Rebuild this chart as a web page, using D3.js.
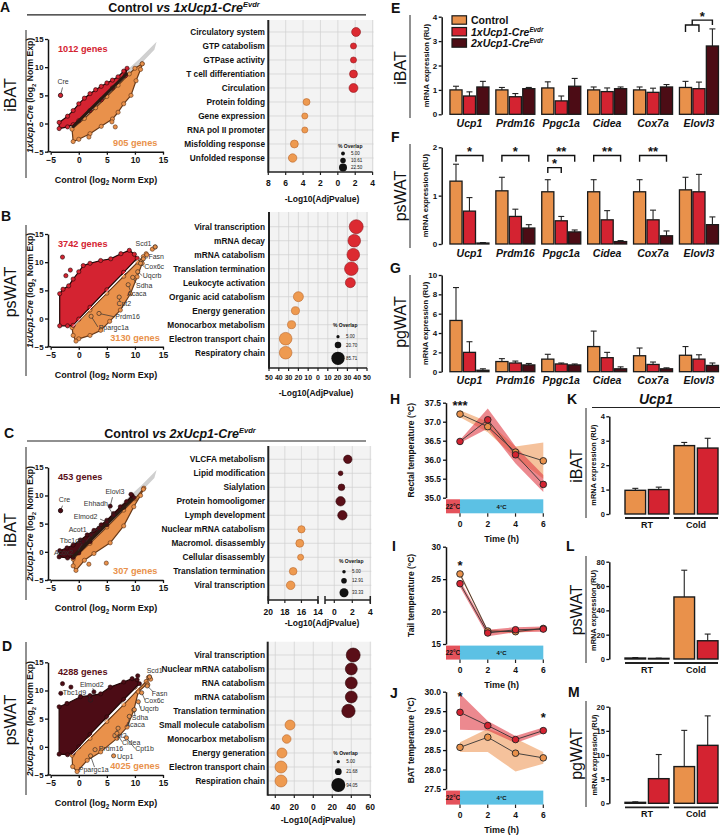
<!DOCTYPE html>
<meta charset="utf-8">
<script src="https://d3js.org/d3.v7.min.js"></script>
<style>
  body { margin: 0; background: #fff; }
  text { font-family: "Liberation Sans", Arial, Helvetica, sans-serif; }
</style>
<div id="fig"></div>
<script>

// colours for the three genotypes
var cCtrl = "#E9914B", cOne = "#D42331", cTwo = "#4C0C15";

// ---------- A-D scatter clouds: outlines (log2 norm exp)
var upA = [[-3.5,-0.9],[-3.5,0.2],[-2,1.3],[-1,2.3],[0,3.5],[1,4.5],[2,5.3],[3,6],[4,6.6],[5,7.2],[6,7.7],[7,8.3],[8,9.3],[8.6,9.8],[8.3,8.5],[6,6.3],[4,4.2],[2,2.3],[0,0.5],[-1,-0.2],[-2,-0.6]];
var downA = [[-1.2,-1],[1,0.9],[3,2.8],[5,4.8],[7,6.8],[9,8.8],[10,9.8],[11.3,10.6],[11,9.6],[10.2,7.6],[9.3,5],[8,3.5],[7,2],[6,0.8],[4,-0.5],[2,-1.8],[0,-2.8],[-1,-3.2]];
var grayA = [[7.5,8.2],[9,9.6],[11,11.4],[13.5,13.9],[13.3,13.2],[11,10.8],[9,9]];
var outUpA = [[-3.25,5.0]];
var outDownA = [[5.9,0.3],[6.5,-0.6],[1.8,-2.4],[11.3,10.6]];
var coreA = [[-1,-0.5],[8.5,8.8]];
var labelsA = [["Cre",-3.25,5.0,-3.8,7.1,-2.9,6.4]];

var upB = [[-3.4,-1.3],[-3.4,4.4],[-2.8,5.2],[-1.8,5.8],[-1,7],[0,8.3],[0.8,9.4],[2,9.8],[3.9,10.3],[5.7,10.6],[7.5,11.5],[9,12.1],[9.9,11.4],[10.4,10.7],[8,8.2],[5,5.1],[2,2],[0,-0.1],[-1,-1.2],[-2,-1.3]];
var downB = [[-1.2,-1.6],[2,1.5],[5,4.5],[8,7.5],[10.5,10],[11.5,11],[12,11.5],[11.3,9.8],[10.4,7.4],[9.2,4.4],[7.4,1.5],[5.5,-0.5],[3.9,-2.1],[2,-3],[0,-3.6],[-0.5,-4],[-1,-3]];
var outUpB = [[-2.9,10.9],[-2.3,7.6],[-1.5,8.6]];
var outDownB = [[13.6,12.7],[13.1,12.3],[12.1,11.3]];
var coreB = [[-1,-1.4],[10.5,10.4]];
var labelsB = [
  ["Scd1",13.6,12.7,10.1,12.8,null,null],
  ["Fasn",11.5,10.6,12.4,10.55,12.3,10.8],
  ["Cox6c",11.0,9.8,11.65,8.75,11.6,9.2],
  ["Uqcrb",10.5,8.3,11.4,7.15,11.3,7.6],
  ["Sdha",9.6,7.3,10.2,5.45,10.2,6.3],
  ["Acaca",8.8,6.0,8.6,4.0,9.2,4.9],
  ["Cpt2",7.2,3.8,6.7,2.15,7.3,3.1],
  ["Prdm16",3.6,0.9,6.5,-0.05,6.4,0.3],
  ["Ppargc1a",2.2,0.4,3.55,-2.1,3.4,-1.5]
];

var upC = [[-3.5,-0.9],[-3.4,0.2],[-2.1,0.7],[-1,1.2],[0.3,2.1],[1.5,3],[2.7,3.8],[4,4.8],[5,5.6],[6.2,6.8],[7.4,8],[8.5,8.9],[9.5,10],[9.8,9.6],[8,7.9],[5,4.8],[2,1.8],[0,-0.2],[-1,-1],[-2,-1.1]];
var downC = [[-1,-1.3],[2,1.5],[5,4.4],[8,7.4],[10,9.4],[11.6,11.3],[11,10],[9.8,8],[8,4.6],[5.6,1.6],[2.7,-0.3],[1,-1.5],[-0.5,-3.3],[-1,-2.5]];
var grayC = [[7.5,8.2],[9,9.6],[11,11.4],[13.5,13.9],[13.3,13.2],[11,10.8],[9,9]];
var outUpC = [[-3.25,7.3],[9.3,10.2]];
var outDownC = [[1.8,-2.2],[4.9,-2.0],[11.5,11.1]];
var coreC = [[-1,-0.8],[9.5,9.3]];
var labelsC = [
  ["Cre",-3.25,7.3,-3.55,8.8,-2.9,8.2],
  ["Elovl3",5.6,8.1,4.75,10.3,6.0,9.7],
  ["Ehhadh",6.2,6.5,0.9,8.05,5.3,7.9],
  ["Elmod2",5.0,5.3,-0.9,5.9,3.8,5.8],
  ["Acot1",3.6,4.2,-1.8,3.6,2.3,3.5],
  ["Tbc1d9",2.2,3.0,-3.4,1.55,1.3,1.8],
  ["Acox2",0.8,1.8,-4.4,-0.5,-0.1,0.2]
];

var upD = [[-3.5,-1.3],[-3.5,7.1],[-2.1,7.7],[0.3,8.9],[2,9.1],[3.9,9.4],[5.6,10.6],[8,11.5],[9.5,12.1],[10.4,11.9],[10.8,11.2],[8,8.4],[5,5.3],[2,2.2],[0,0],[-1,-1.1],[-2,-1.4]];
var downD = [[-1.2,-1.5],[2,1.5],[5,4.5],[8,7.5],[10.5,10.1],[12,11.6],[12.4,12.3],[12.2,11.2],[10.6,9.75],[9.8,6.5],[8.6,3.5],[6.8,1.5],[3.9,-0.9],[1.5,-2.4],[-0.3,-4.4],[-1.1,-3.5]];
var outUpD = [[-2.9,11.2],[-1.4,10.6],[-3.2,9.5],[10.5,12.6]];
var outDownD = [[12.6,12.4],[12.8,12.0],[12.3,11.0]];
var coreD = [[-1.1,-1.4],[10.8,10.7]];
var labelsD = [
  ["Scd1",12.6,12.4,12.1,13.1,null,null],
  ["Elmod2",2.7,9.75,0.2,10.7,2.5,10.4],
  ["Tbc1d9",2.1,8.3,-2.85,9.2,1.8,9.0],
  ["Fasn",12.2,10.8,13.0,9.1,13.2,9.8],
  ["Cox6c",11.2,9.6,11.65,7.76,11.8,8.3],
  ["Uqcrb",10.6,8.0,10.9,6.28,11.0,6.8],
  ["Sdha",9.9,6.6,9.45,4.79,10.0,5.4],
  ["Acaca",9.0,5.4,8.3,3.49,8.9,4.0],
  ["Cpt2",7.0,3.3,5.9,1.54,6.5,2.2],
  ["Cidea",6.8,2.4,7.7,0.25,7.7,0.9],
  ["Cpt1b",8.5,1.6,10.05,-0.82,10.0,-0.3],
  ["Prdm16",2.9,-0.5,3.55,-0.82,null,null],
  ["Ucp1",6.2,-1.6,6.8,-2.19,null,null],
  ["Ppargc1a",2.1,-1.6,0.0,-4.4,2.8,-3.6]
];

var countsA = ["1012 genes", "905 genes"];
var countsB = ["3742 genes", "3130 genes"];
var countsC = ["453 genes", "307 genes"];
var countsD = ["4288 genes", "4025 genes"];

// ---------- GO term dot plots (signed -log10 adj p: + up, - down; % overlap)
var termsA = ["Circulatory system","GTP catabolism","GTPase activity","T cell differentiation","Circulation","Protein folding","Gene expression","RNA pol II promoter","Misfolding response","Unfolded response"];
var scoreA = [2.1,1.8,1.8,1.8,1.8,-3.6,-3.8,-3.8,-5.0,-5.2];
var overlapA = [28,13,13,22,28,17,13,13,22,25];
var legendA = [5.00,10.61,22.50];

var termsB = ["Viral transcription","mRNA decay","mRNA catabolism","Translation termination","Leukocyte activation","Organic acid catabolism","Energy generation","Monocarbox metabolism","Electron transport chain","Respiratory chain"];
var scoreB = [39,37,36,34,33,-20,-23,-27,-33,-33];
var overlapB = [94,77,77,89,48,48,31,31,77,77];
var legendB = [5.00,20.70,85.71];

var termsC = ["VLCFA metabolism","Lipid modification","Sialylation","Protein homooligomer","Lymph development","Nuclear mRNA catabolism","Macromol. disassembly","Cellular disassembly","Translation termination","Viral transcription"];
var scoreC = [1.5,0.7,0.8,0.7,0.9,-16,-16.2,-16.1,-17,-17.3];
var overlapC = [29,9,18,36,36,22,26,15,24,30];
var legendC = [5.00,12.91,33.33];

var termsD = ["Viral transcription","Nuclear mRNA catabolism","RNA catabolism","mRNA catabolism","Translation termination","Small molecule catabolism","Monocarbox metabolism","Energy generation","Electron transport chain","Respiration chain"];
var scoreD = [42,40,40,40,37,-24.5,-28,-33,-34,-34];
var overlapD = [94,69,69,69,86,48,36,48,69,69];
var legendD = [5.00,21.68,94.05];

// ---------- E-G qPCR: per gene [Control, 1x, 2x]
var genes = ["Ucp1","Prdm16","Ppgc1a","Cidea","Cox7a","Elovl3"];
var ibatMean = [[1.0,0.75,1.12],[1.0,0.72,1.05],[1.08,0.55,1.15],[1.0,0.93,1.05],[1.0,0.9,1.12],[1.1,1.05,2.8]];
var ibatSem  = [[0.15,0.17,0.23],[0.1,0.13,0.05],[0.25,0.2,0.32],[0.12,0.15,0.07],[0.12,0.17,0.1],[0.25,0.27,0.7]];
var pswatMean = [[1.3,0.68,0.02],[1.1,0.57,0.33],[1.08,0.48,0.25],[1.08,0.5,0.05],[1.08,0.5,0.17],[1.12,1.08,0.4]];
var pswatSem  = [[0.35,0.28,0.01],[0.28,0.15,0.07],[0.25,0.09,0.04],[0.25,0.19,0.02],[0.25,0.2,0.1],[0.26,0.36,0.16]];
var pgwatMean = [[5.3,2.0,0.15],[1.05,0.9,0.7],[1.3,0.8,0.7],[2.6,1.45,0.3],[1.65,0.75,0.3],[1.7,1.3,0.65]];
var pgwatSem  = [[3.4,1.1,0.15],[0.3,0.2,0.15],[0.5,0.1,0.1],[1.6,0.55,0.2],[0.8,0.25,0.1],[0.9,0.45,0.25]];
// brackets: [gene, from group, to group, height, leg end, label]
var sigE = [[5,0,1,3.66,3.37,""],[5,0.5,2,3.86,3.66,"*"]];
var sigF = [[0,0,2,1.83,1.7,"*"],[1,0,2,1.83,1.7,"*"],[2,0,2,1.83,1.7,"**"],[2,0,1,1.58,1.47,"*"],[3,0,2,1.83,1.7,"**"],[4,0,2,1.83,1.7,"**"]];

// ---------- H-J temperatures (mean and band limits) for Control and 1x
var hours = [0,2,4,6];
var rectalCtrl = [37.2,36.87,36.2,35.97], rectalCtrlLo = [37.12,36.72,36.05,35.5], rectalCtrlHi = [37.3,37.0,36.35,36.45];
var rectalCre = [36.48,37.05,36.13,35.35], rectalCreLo = [36.44,36.82,35.9,35.15], rectalCreHi = [36.52,37.35,36.35,35.6];
var tailCtrl = [25.8,17.0,16.9,17.4], tailCtrlLo = [25.5,16.8,16.7,17.2], tailCtrlHi = [26.1,17.2,17.1,17.6];
var tailCre = [24.3,16.7,17.2,17.3], tailCreLo = [23.8,16.2,16.8,16.9], tailCreHi = [24.8,17.2,17.6,17.7];
var batCtrl = [28.57,28.83,28.42,28.3], batCtrlLo = [28.45,28.45,27.95,28.15], batCtrlHi = [28.7,29.05,28.8,28.45];
var batCre = [29.47,29.13,28.77,29.0], batCreLo = [29.02,29.0,28.68,28.93], batCreHi = [29.95,29.25,28.86,29.08];

// ---------- K-M Ucp1 at RT / cold: per condition [Control, 1x]
var conds = ["RT","Cold"];
var kMean = [[0.97,1.0],[2.8,2.7]], kSem = [[0.08,0.1],[0.13,0.4]];
var lMean = [[0.8,0.5],[51,15]], lSem = [[0.4,0.2],[22,5.5]];
var mMean = [[0.2,5.1],[7.6,12.0]], mSem = [[0.1,5.0],[7.5,6.1]];

// ================================================================
var svg = d3.select("#fig").append("svg").attr("width", 720).attr("height", 836);
var fInt = d3.format("d");

// text with italic / sub / sup parts
function rich(t, parts, fs) {
  var shift = 0;
  parts.forEach(function(q) {
    var s = t.append("tspan").text(q.t);
    if (q.i) s.style("font-style", "italic");
    var want = q.sub ? 0.3 * fs : (q.sup ? -0.36 * fs : 0);
    if (want !== shift) { s.attr("dy", want - shift); shift = want; }
    if (q.sub || q.sup) s.style("font-size", (fs * (q.sub ? 0.7 : 0.6)) + "px");
  });
}

function addText(x, y, s, o) {
  o = o || {};
  var size = o.size || 9;
  var t = svg.append("text").attr("x", x).attr("y", y)
    .style("font-size", size + "px")
    .style("font-weight", o.bold === false ? "normal" : "bold")
    .attr("text-anchor", o.anchor || "start")
    .attr("fill", o.fill || "#111");
  if (o.italic) t.style("font-style", "italic");
  if (o.rotate) t.attr("transform", "rotate(-90," + x + "," + y + ")");
  if (typeof s === "string") t.text(s); else rich(t, s, size);
  return t;
}

function vline(x, y1, y2, w) {
  svg.append("line").attr("x1", x).attr("x2", x).attr("y1", y1).attr("y2", y2)
    .attr("stroke", "#222").attr("stroke-width", w || 1);
}
function hline(x1, x2, y, w) {
  svg.append("line").attr("x1", x1).attr("x2", x2).attr("y1", y).attr("y2", y)
    .attr("stroke", "#222").attr("stroke-width", w || 1);
}

function styleAxis(a, fs) {
  a.select(".domain").attr("stroke", "#111").attr("stroke-width", 1.5);
  a.selectAll(".tick line").attr("stroke", "#111").attr("stroke-width", 1.3);
  a.selectAll(".tick text").style("font-size", fs + "px").style("font-weight", "bold")
    .style("font-family", '"Liberation Sans", Arial, sans-serif').attr("fill", "#111");
}

// ---------- panel letters / titles / tissue labels
[["A",0,12],["B",1,221],["C",4,438],["D",2,651],["E",391,12.5],["F",391,142],["G",390,273],
 ["H",390,404],["I",392,551],["J",390,698],["K",567,404],["L",566,551],["M",568,697]]
  .forEach(function(d) { addText(d[1], d[2], d[0], {size: 14}); });

function creTitle(x, y, n) {
  addText(x, y, [{t: "Control "}, {t: "vs " + n + "xUcp1-Cre", i: true}, {t: "Evdr", i: true, sup: true}],
    {size: 12.5, anchor: "middle"});
}
creTitle(184, 11.5, 1); hline(27, 366, 14.8, 1.2);
creTitle(180, 437.5, 2); hline(27, 366, 441, 1.2);

function tissue(name, x, yc, lineX, y1, y2) {
  addText(x, yc, name, {size: 16, bold: false, rotate: true, anchor: "middle"});
  vline(lineX, y1, y2, 1);
}
tissue("iBAT", 16, 95, 26, 30, 178);
tissue("psWAT", 16, 292, 26, 225, 376);
tissue("iBAT", 16, 530, 26, 447, 600);
tissue("psWAT", 16, 720, 26, 642, 795);
tissue("iBAT", 406, 68, 410, 15, 118);
tissue("psWAT", 406, 196, 410, 144, 248);
tissue("pgWAT", 406, 322, 410, 275, 378);
tissue("iBAT", 582, 466, 586, 408, 518);
tissue("psWAT", 582, 610, 586, 556, 663);
tissue("pgWAT", 582, 754, 586, 701, 807);

// ---------- scatter panels
function scatter(p) {
  var g = svg.append("g");
  var x = d3.scaleLinear().domain([-5, 15]).range([50.7, 163]);
  var y = d3.scaleLinear().domain([-5, 15]).range([p.base, p.base - 112.7]);
  var poly = d3.line().x(function(d) { return x(d[0]); }).y(function(d) { return y(d[1]); })
    .curve(d3.curveLinearClosed);
  function dots(data, fill, stroke) {
    g.append("g").selectAll("circle").data(data).join("circle")
      .attr("cx", function(d) { return x(d[0]); }).attr("cy", function(d) { return y(d[1]); })
      .attr("r", 2.1).attr("fill", fill).attr("stroke", stroke).attr("stroke-width", 0.6);
  }
  if (p.gray) {
    g.append("path").attr("d", poly(p.gray)).attr("fill", "#d9d9d9").attr("stroke", "#cfcfcf").attr("stroke-width", 2);
  }
  g.append("path").attr("d", poly(p.down)).attr("fill", cCtrl)
    .attr("stroke", "#6a3a18").attr("stroke-width", 1.2).attr("stroke-linejoin", "round");
  dots(p.down, cCtrl, "#5a3015");
  g.append("path").attr("d", poly(p.up)).attr("fill", p.upColor)
    .attr("stroke", "#220606").attr("stroke-width", 1.2).attr("stroke-linejoin", "round");
  dots(p.up, p.upColor, "#220606");
  g.append("line").attr("x1", x(p.core[0][0])).attr("y1", y(p.core[0][1]))
    .attr("x2", x(p.core[1][0])).attr("y2", y(p.core[1][1]))
    .attr("stroke", p.coreColor).attr("stroke-width", p.coreWidth).attr("stroke-linecap", "round");
  dots(p.outUp, p.upColor, "#220606");
  dots(p.outDown, cCtrl, "#5a3015");
  // gene labels
  p.labels.forEach(function(l) {
    if (l[5] !== null) {
      g.append("line").attr("x1", x(l[1])).attr("y1", y(l[2])).attr("x2", x(l[5])).attr("y2", y(l[6]))
        .attr("stroke", "#333").attr("stroke-width", 0.7);
    }
    var isUp = l[2] > l[1];
    g.append("circle").attr("cx", x(l[1])).attr("cy", y(l[2])).attr("r", 2.1)
      .attr("fill", isUp ? p.upColor : cCtrl).attr("stroke", "#222").attr("stroke-width", 0.6);
    g.append("text").attr("x", x(l[3])).attr("y", y(l[4])).text(l[0])
      .style("font-size", "7px").attr("fill", "#333");
  });
  // gene counts
  g.append("text").attr("x", x(-3.7)).attr("y", y(12.7)).text(p.counts[0])
    .style("font-size", "9.2px").style("font-weight", "bold").attr("fill", p.upColor === cTwo ? "#5a0f18" : cOne);
  g.append("text").attr("x", x(p.downX)).attr("y", y(-3.9)).text(p.counts[1])
    .style("font-size", "9.2px").style("font-weight", "bold").attr("fill", cCtrl);
  // axes
  var ay = g.append("g").attr("transform", "translate(48,0)")
    .call(d3.axisLeft(y).tickValues([-5, 0, 5, 10, 15]).tickFormat(fInt).tickSize(3).tickSizeOuter(0).tickPadding(1.5));
  styleAxis(ay, 7.8);
  var ax = g.append("g").attr("transform", "translate(0," + p.base + ")")
    .call(d3.axisBottom(x).tickValues([-5, 0, 5, 10, 15]).tickFormat(fInt).tickSize(3).tickSizeOuter(0).tickPadding(2));
  styleAxis(ax, 8.5);
  hline(47.3, 51, p.base, 1.5);
  addText(106, p.base + 31, [{t: "Control (log"}, {t: "2", sub: true}, {t: " Norm Exp)"}], {size: 9, anchor: "middle"});
  addText(33.5, y(5), [{t: p.cre + "xUcp1-Cre", i: true}, {t: " (log"}, {t: "2", sub: true}, {t: " Norm Exp)"}],
    {size: 8.6, anchor: "middle", rotate: true});
}

scatter({base: 151.7, up: upA, down: downA, gray: grayA, outUp: outUpA, outDown: outDownA, core: coreA,
  coreColor: "#2a1a12", coreWidth: 3, labels: labelsA, counts: countsA, upColor: cOne, downX: 6.1, cre: 1});
scatter({base: 346.7, up: upB, down: downB, gray: null, outUp: outUpB, outDown: outDownB, core: coreB,
  coreColor: "#ffffff", coreWidth: 1, labels: labelsB, counts: countsB, upColor: cOne, downX: 5.6, cre: 1});
scatter({base: 580, up: upC, down: downC, gray: grayC, outUp: outUpC, outDown: outDownC, core: coreC,
  coreColor: "#2a1a12", coreWidth: 3, labels: labelsC, counts: countsC, upColor: cTwo, downX: 6.1, cre: 2});
scatter({base: 775, up: upD, down: downD, gray: null, outUp: outUpD, outDown: outDownD, core: coreD,
  coreColor: "#ffffff", coreWidth: 1, labels: labelsD, counts: countsD, upColor: cTwo, downX: 5.6, cre: 2});

// ---------- dot plots
function dotPlot(p) {
  var g = svg.append("g");
  var y = d3.scalePoint().domain(p.terms).range([p.rowTop, p.rowTop + 14 * (p.terms.length - 1)]);
  var r = d3.scaleSqrt().domain([0, 100]).range([0, p.k * 10]);
  var right = p.xp(p.ticks[p.ticks.length - 1]) + 1;
  g.append("rect").attr("x", p.left).attr("y", p.top).attr("width", right - p.left).attr("height", p.bottom - p.top)
    .attr("fill", "#f3f3f3");
  p.ticks.forEach(function(t) {
    g.append("line").attr("x1", p.xp(t)).attr("x2", p.xp(t)).attr("y1", p.top).attr("y2", p.bottom)
      .attr("stroke", "#d0d0d0").attr("stroke-width", 0.7);
  });
  p.terms.forEach(function(t) {
    g.append("line").attr("x1", p.left).attr("x2", right).attr("y1", y(t)).attr("y2", y(t))
      .attr("stroke", "#d0d0d0").attr("stroke-width", 0.7);
  });
  vline(p.left, p.top, p.bottom + 0.7, 2);
  p.segments.forEach(function(s) {
    hline(s[0], s[1], p.bottom, 1.5);
    if (p.segments.length > 1) { vline(s[0], p.bottom - 4, p.bottom + 4, 1.5); vline(s[1], p.bottom - 4, p.bottom + 4, 1.5); }
  });
  p.ticks.forEach(function(t) {
    vline(p.xp(t), p.bottom, p.bottom + 3, 1.2);
    addText(p.xp(t), p.bottom + p.tickDy, String(Math.abs(t)), {size: p.tickFs || 8.5, anchor: "middle"});
  });
  g.selectAll("circle.dot").data(p.terms).join("circle").attr("class", "dot")
    .attr("cx", function(d, i) { return p.xp(p.score[i]); })
    .attr("cy", function(d) { return y(d); })
    .attr("r", function(d, i) { return r(p.overlap[i]); })
    .attr("fill", function(d, i) { return p.score[i] > 0 ? p.upFill : "#EE9A50"; })
    .attr("stroke", function(d, i) { return p.score[i] > 0 ? p.upStroke : "#B8672C"; })
    .attr("stroke-width", 0.6);
  p.terms.forEach(function(t) { addText(265, y(t) + 3, t, {size: 8.3, anchor: "end"}); });
  // size legend
  addText(p.leg[0], p.leg[1], "% Overlap", {size: 5});
  p.legend.forEach(function(v, i) {
    svg.append("circle").attr("cx", p.leg[0] + 5).attr("cy", p.legY[i]).attr("r", r(v)).attr("fill", "#111");
    addText(p.leg[0] + 13, p.legY[i] + 1.6, v.toFixed(2), {size: 4.5, bold: false});
  });
  addText(p.titleX, p.bottom + p.titleDy, "-Log10(AdjPvalue)", {size: 8.5, anchor: "middle"});
}

var xsA = d3.scaleLinear().domain([-8, 4]).range([268.3, 372.6]);
dotPlot({terms: termsA, score: scoreA, overlap: overlapA, legend: legendA, k: 0.843,
  xp: xsA, ticks: [-8, -6, -4, -2, 0, 2, 4], segments: [[268.3, 372.6]],
  left: 268.3, top: 20, bottom: 172, rowTop: 32, tickDy: 13.5, titleDy: 30, titleX: 322,
  upFill: "#DC2A31", upStroke: "#8f1a1f", leg: [338, 147.5], legY: [153.5, 160.5, 167.5]});

var xsB = d3.scaleLinear().domain([-50, 50]).range([269, 367]);
dotPlot({terms: termsB, score: scoreB, overlap: overlapB, legend: legendB, k: 0.72,
  xp: xsB, ticks: [-50, -40, -30, -20, -10, 0, 10, 20, 30, 40, 50], segments: [[269, 367]], tickFs: 7,
  left: 269, top: 212, bottom: 368, rowTop: 226.7, tickDy: 11.5, titleDy: 28, titleX: 316,
  upFill: "#DC2A31", upStroke: "#8f1a1f", leg: [333, 327], legY: [336.7, 345, 358.3]});

var xsCl = d3.scaleLinear().domain([-20, -14]).range([268.3, 318]);
var xsCr = d3.scaleLinear().domain([0, 4]).range([334.3, 370.3]);
dotPlot({terms: termsC, score: scoreC, overlap: overlapC, legend: legendC, k: 0.78,
  xp: function(v) { return v <= -14 ? xsCl(v) : xsCr(v); },
  ticks: [-20, -18, -16, -14, 0, 2, 4], segments: [[268.3, 318], [325, 370.3]],
  left: 268.3, top: 446, bottom: 600, rowTop: 459.3, tickDy: 14.5, titleDy: 25.5, titleX: 322,
  upFill: "#5A0F18", upStroke: "#2e0509", leg: [339, 562.5], legY: [571.7, 580.7, 592.7]});

var xsD = d3.scaleLinear().domain([-48, 60]).range([267.7, 370.3]);
dotPlot({terms: termsD, score: scoreD, overlap: overlapD, legend: legendD, k: 0.72,
  xp: xsD, ticks: [-40, -20, 0, 20, 40, 60], segments: [[267.7, 370.3]],
  left: 267.7, top: 641.7, bottom: 795, rowTop: 655, tickDy: 14.5, titleDy: 28, titleX: 318,
  upFill: "#5A0F18", upStroke: "#2e0509", leg: [333.3, 754.5], legY: [761.7, 771.7, 785]});

// ---------- E-G bar panels
var x0 = d3.scaleBand().domain(genes).range([446.5, 721.9]).paddingInner(0.15).paddingOuter(0.075);
var x1 = d3.scaleBand().domain([0, 1, 2]).range([0, x0.bandwidth()]).paddingInner(0.1);
var groupColors = [cCtrl, cOne, cTwo];

function errBar(g, cx, y0, y1) {
  g.append("line").attr("x1", cx).attr("x2", cx).attr("y1", y0).attr("y2", y1).attr("stroke", "#222").attr("stroke-width", 1.1);
  g.append("line").attr("x1", cx - 3).attr("x2", cx + 3).attr("y1", y1).attr("y2", y1).attr("stroke", "#222").attr("stroke-width", 1.1);
}

function genePanel(p) {
  var g = svg.append("g");
  var y = d3.scaleLinear().domain([0, p.max]).range([p.base, p.top]);
  genes.forEach(function(gn, i) {
    [0, 1, 2].forEach(function(j) {
      var bx = x0(gn) + x1(j), m = p.mean[i][j];
      errBar(g, bx + x1.bandwidth() / 2, y(m), y(m + p.sem[i][j]));
      g.append("rect").attr("x", bx).attr("y", y(m)).attr("width", x1.bandwidth()).attr("height", p.base - y(m))
        .attr("fill", groupColors[j]).attr("stroke", "#1a1a1a").attr("stroke-width", 1.3);
    });
    addText(x0(gn) + x0.bandwidth() / 2, p.base + 12.5, gn, {size: 10.5, italic: true, anchor: "middle"});
  });
  var ay = g.append("g").attr("transform", "translate(441.7,0)")
    .call(d3.axisLeft(y).tickValues(p.ticks).tickFormat(fInt).tickSize(3).tickSizeOuter(0).tickPadding(1.5));
  styleAxis(ay, 8);
  addText(428.5, (p.base + p.top) / 2, "mRNA expression (RU)", {size: 7.6, anchor: "middle", rotate: true});
  (p.sig || []).forEach(function(s) {
    var gx = function(k) { return x0(genes[s[0]]) + x1.step() * k + x1.bandwidth() / 2; };
    var xa = gx(s[1]), xb = gx(s[2]);
    g.append("path").attr("d", "M" + xa + "," + y(s[4]) + "V" + y(s[3]) + "H" + xb + "V" + y(s[4]))
      .attr("fill", "none").attr("stroke", "#111").attr("stroke-width", 1.4);
    if (s[5]) addText((xa + xb) / 2, y(s[3]) + 0.5, s[5], {size: 13, anchor: "middle"});
  });
}
genePanel({mean: ibatMean, sem: ibatSem, max: 4, base: 114.3, top: 16.7, ticks: [0, 1, 2, 3, 4], sig: sigE});
genePanel({mean: pswatMean, sem: pswatSem, max: 2, base: 244, top: 147.3, ticks: [0, 1, 2], sig: sigF});
genePanel({mean: pgwatMean, sem: pgwatSem, max: 10, base: 371.7, top: 275, ticks: [0, 2, 4, 6, 8, 10]});

// legend E
[["Control", false], ["1xUcp1-Cre", true], ["2xUcp1-Cre", true]].forEach(function(d, i) {
  var yy = [20, 31.7, 43][i];
  svg.append("rect").attr("x", 452).attr("y", yy - 4.2).attr("width", 14.5).attr("height", 8.4)
    .attr("fill", groupColors[i]).attr("stroke", "#1a1a1a").attr("stroke-width", 1.2);
  addText(471, yy + 3.8, d[1] ? [{t: d[0], i: true}, {t: "Evdr", i: true, sup: true}] : d[0], {size: 10.5});
});

// ---------- H-J temperature panels
var xt = d3.scaleLinear().domain([0, 6]).range([460, 543.3]);
function tempPanel(p) {
  var g = svg.append("g");
  var y = d3.scaleLinear().domain(p.dom).range([p.base, p.top]);
  var area = function(lo, hi) {
    return d3.area().x(function(d, i) { return xt(hours[i]); })
      .y0(function(d, i) { return y(lo[i]); }).y1(function(d, i) { return y(hi[i]); })(hours);
  };
  var ln = d3.line().x(function(d, i) { return xt(hours[i]); }).y(function(d) { return y(d); });
  g.append("path").attr("d", area(p.ctrlLo, p.ctrlHi)).attr("fill", "#EE9A5A").attr("opacity", 0.6);
  g.append("path").attr("d", area(p.creLo, p.creHi)).attr("fill", "#E03A45").attr("opacity", 0.6);
  g.append("path").attr("d", ln(p.ctrl)).attr("fill", "none").attr("stroke", "#333").attr("stroke-width", 0.9);
  g.append("path").attr("d", ln(p.cre)).attr("fill", "none").attr("stroke", "#333").attr("stroke-width", 0.9);
  [[p.ctrl, cCtrl], [p.cre, cOne]].forEach(function(s) {
    g.selectAll(null).data(s[0]).join("circle")
      .attr("cx", function(d, i) { return xt(hours[i]); }).attr("cy", function(d) { return y(d); })
      .attr("r", 3.3).attr("fill", s[1]).attr("stroke", "#222").attr("stroke-width", 0.9);
  });
  var ay = g.append("g").attr("transform", "translate(446,0)")
    .call(d3.axisLeft(y).tickValues(p.ticks).tickFormat(p.fmt).tickSize(3).tickSizeOuter(0).tickPadding(2));
  styleAxis(ay, 8.5);
  // housing temperature strip
  g.append("rect").attr("x", 446).attr("y", p.base + 1.6).attr("width", xt(0) - 446).attr("height", 14)
    .attr("fill", "#E4525B");
  g.append("rect").attr("x", xt(0)).attr("y", p.base + 1.6).attr("width", xt(6) - xt(0)).attr("height", 14)
    .attr("fill", "#5CC1E4");
  addText((446 + xt(0)) / 2, p.base + 11, "22°C", {size: 6.5, anchor: "middle"});
  addText((xt(0) + xt(6)) / 2, p.base + 11, "4°C", {size: 6, anchor: "middle"});
  hours.forEach(function(h) {
    vline(xt(h), p.base + 15.6, p.base + 19, 1.2);
    addText(xt(h), p.base + 29, String(h), {size: 8.5, anchor: "middle"});
  });
  addText(xt(3), p.base + 44, "Time (h)", {size: 9, anchor: "middle"});
  addText(414, (p.base + p.top) / 2, p.label, {size: 8.5, anchor: "middle", rotate: true});
  p.stars.forEach(function(s) { addText(xt(s[0]), y(s[1]) + 6.6, s[2], {size: 13, anchor: "middle"}); });
}
var f1 = d3.format(".1f");
tempPanel({dom: [35, 37.5], base: 497.7, top: 402.7, ticks: [35, 35.5, 36, 36.5, 37, 37.5], fmt: f1,
  ctrl: rectalCtrl, ctrlLo: rectalCtrlLo, ctrlHi: rectalCtrlHi, cre: rectalCre, creLo: rectalCreLo, creHi: rectalCreHi,
  label: "Rectal temperature (°C)", stars: [[0, 37.48, "***"]]});
tempPanel({dom: [15, 30], base: 644, top: 546.7, ticks: [15, 20, 25, 30], fmt: fInt,
  ctrl: tailCtrl, ctrlLo: tailCtrlLo, ctrlHi: tailCtrlHi, cre: tailCre, creLo: tailCreLo, creHi: tailCreHi,
  label: "Tail temperature (°C)", stars: [[0, 27.5, "*"]]});
tempPanel({dom: [27.5, 30], base: 789, top: 691.7, ticks: [27.5, 28, 28.5, 29, 29.5, 30], fmt: f1,
  ctrl: batCtrl, ctrlLo: batCtrlLo, ctrlHi: batCtrlHi, cre: batCre, creLo: batCreLo, creHi: batCreHi,
  label: "BAT temperature (°C)", stars: [[0, 29.93, "*"], [6, 29.38, "*"]]});

// ---------- K-M Ucp1 RT vs cold
addText(656, 404, "Ucp1", {size: 14, italic: true, anchor: "middle"});
hline(592, 720, 407.5, 1.2);
var xc0 = d3.scaleBand().domain(conds).range([625, 718]).paddingInner(0.1).paddingOuter(0);
var xc1 = d3.scaleBand().domain([0, 1]).range([0, xc0.bandwidth()]).paddingInner(0.12);
function coldPanel(p) {
  var g = svg.append("g");
  var y = d3.scaleLinear().domain([0, p.max]).range([p.base, p.top]);
  conds.forEach(function(c, i) {
    [0, 1].forEach(function(j) {
      var bx = xc0(c) + xc1(j), m = p.mean[i][j];
      errBar(g, bx + xc1.bandwidth() / 2, y(m), y(m + p.sem[i][j]));
      g.append("rect").attr("x", bx).attr("y", y(m)).attr("width", xc1.bandwidth()).attr("height", p.base - y(m))
        .attr("fill", groupColors[j]).attr("stroke", "#1a1a1a").attr("stroke-width", 1.4);
    });
    hline(xc0(c), xc0(c) + xc0.bandwidth(), p.base + 4, 1.8);
    addText(xc0(c) + xc0.bandwidth() / 2, p.base + 13.5, c, {size: 9, anchor: "middle"});
  });
  var ay = g.append("g").attr("transform", "translate(609.3,0)")
    .call(d3.axisLeft(y).tickValues(p.ticks).tickFormat(fInt).tickSize(3).tickSizeOuter(0).tickPadding(1.5));
  styleAxis(ay, 7.5);
  addText(596.5, (p.base + p.top) / 2, "mRNA expression (RU)", {size: 7.4, anchor: "middle", rotate: true});
}
coldPanel({mean: kMean, sem: kSem, max: 4, base: 514, top: 416.3, ticks: [0, 1, 2, 3, 4]});
coldPanel({mean: lMean, sem: lSem, max: 80, base: 659, top: 561.7, ticks: [0, 20, 40, 60, 80]});
coldPanel({mean: mMean, sem: mSem, max: 20, base: 803.3, top: 706.7, ticks: [0, 5, 10, 15, 20]});

</script>
